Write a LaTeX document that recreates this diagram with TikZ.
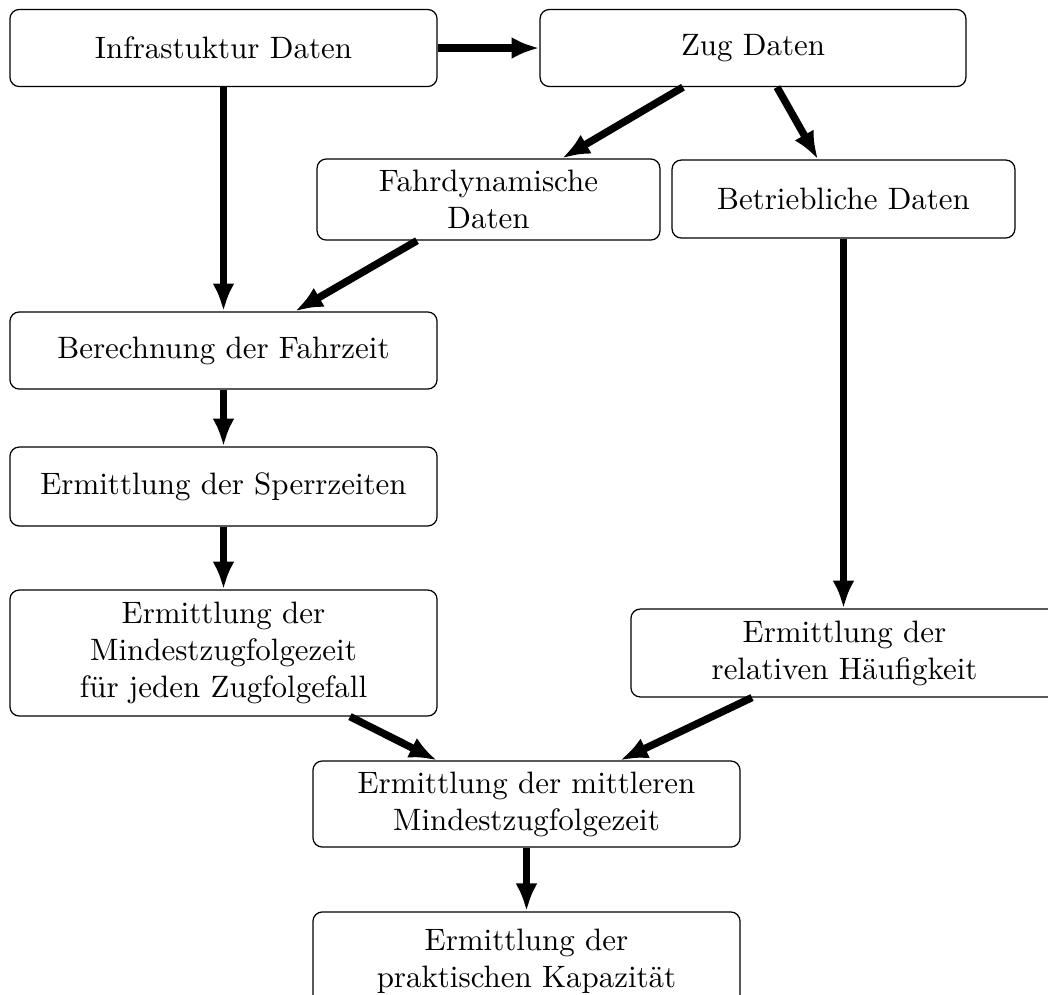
\documentclass[tikz,border=0pt]{standalone}
\usetikzlibrary{arrows.meta}
\begin{document}
\begin{tikzpicture}[x=0.3231pt,y=-0.3231pt,
  box/.style={draw, line width=0.4pt, rounded corners=3pt, align=center, inner sep=0pt},
  flow/.style={line width=2.4pt, -{Latex[length=9pt,width=7.1pt]}}]
\useasboundingbox (0,0) rectangle (1048,994);
\node[box, minimum width=138pt, minimum height=24.9pt] (A) at (223.5,48) {Infrastuktur Daten};
\node[box, minimum width=137.6pt, minimum height=24.9pt] (B) at (753,48) {Zug Daten};
\node[box, minimum width=110.8pt, minimum height=26.2pt] (C) at (488.5,199.5) {Fahrdynamische\\Daten};
\node[box, minimum width=110.8pt, minimum height=25.2pt] (D) at (843.5,199) {Betriebliche Daten};
\node[box, minimum width=138pt, minimum height=24.9pt] (E) at (223.5,350.5) {Berechnung der Fahrzeit};
\node[box, minimum width=138pt, minimum height=25.5pt] (F) at (223.5,486.5) {Ermittlung der Sperrzeiten};
\node[box, minimum width=138pt, minimum height=40.7pt] (G) at (223.5,653) {Ermittlung der\\Mindestzugfolgezeit\\für jeden Zugfolgefall};
\node[box, minimum width=138pt, minimum height=28.4pt] (H) at (844.5,653) {Ermittlung der\\relativen Häufigkeit};
\node[box, minimum width=138pt, minimum height=27.8pt] (I) at (526.5,804) {Ermittlung der mittleren\\Mindestzugfolgezeit};
\node[box, minimum width=138pt, minimum height=31.7pt] (J) at (526.5,961) {Ermittlung der\\praktischen Kapazität};
\draw[flow] (A.east) -- (B.west);
\draw[flow] (A.south) -- (E.north);
\draw[flow] ([xshift=-70*0.3231pt]B.south) -- ([xshift=73.5*0.3231pt]C.north);
\draw[flow] ([xshift=24*0.3231pt]B.south) -- ([xshift=-25.5*0.3231pt]D.north);
\draw[flow] ([xshift=-71.5*0.3231pt]C.south) -- ([xshift=71.5*0.3231pt]E.north);
\draw[flow] (D.south) -- (D.south |- H.north);
\draw[flow] (E.south) -- (F.north);
\draw[flow] (F.south) -- (G.north);
\draw[flow] ([xshift=126.5*0.3231pt]G.south) -- ([xshift=-89.5*0.3231pt]I.north);
\draw[flow] ([xshift=-92.5*0.3231pt]H.south) -- ([xshift=93.5*0.3231pt]I.north);
\draw[flow] (I.south) -- (J.north);
\end{tikzpicture}
\end{document}
